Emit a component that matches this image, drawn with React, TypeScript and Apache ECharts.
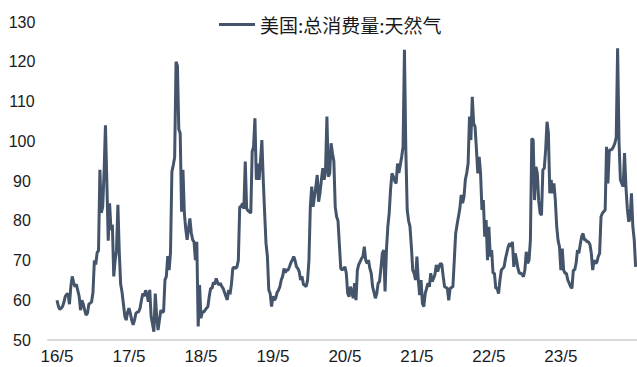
import React, { useEffect, useRef } from "react";
import * as echarts from "echarts";

const seriesName = "美国:总消费量:天然气";
const tickLabels = ["16/5", "17/5", "18/5", "19/5", "20/5", "21/5", "22/5", "23/5"];
const tickWeeks = [0, 52, 104, 156, 208, 260, 312, 364];

// weekly values, 2016/5 onwards
const wk2016 = [60, 58.5, 57.7, 58, 58.4, 59.5, 61, 61.5, 61.6, 59, 63.4, 66, 64.5, 63.4, 64, 62.5, 61, 57.5, 60, 59, 57.5, 56.3, 56.7, 59, 59.3, 59.6, 62, 70, 69, 72, 72.5, 92.8, 82, 83.5, 92, 104, 90, 75, 84.4, 77.7, 79, 66, 70, 72.6, 84, 72, 64, 62, 59, 56, 55, 57, 58, 56.7];
const wk2017 = [55, 53.8, 55, 56.7, 57, 57.1, 58, 60, 61.7, 61, 62.5, 61.5, 59.6, 62.6, 55.9, 54, 52.1, 61.7, 56, 52.5, 55, 57.5, 57, 57.1, 65.1, 66, 71.1, 67.6, 72, 92.3, 94, 96, 120, 119, 103, 102, 82.3, 92.8, 81.9, 78, 75.2, 78, 80.6, 77, 75.2, 74.7, 70.1, 74.7, 53.4, 63.8, 55.5, 57.1, 57, 57.5];
const wk2018 = [58, 58.4, 61, 63, 63, 64.5, 64, 65.5, 64.5, 63.8, 64.3, 63.5, 63, 62, 61, 60.1, 62.6, 61.5, 64, 68, 68.4, 68, 68.4, 70, 83.5, 83.5, 84.4, 83, 94.9, 83.1, 82.5, 82.3, 81.9, 97.4, 98.6, 105.8, 90.3, 94.4, 90.3, 95, 100.3, 90.3, 82, 74.3, 71, 62.6, 61.7, 58.4, 61, 60, 60.5, 62];
const wk2019 = [62.5, 63.4, 65.1, 66, 68, 67, 67.6, 67.6, 68.5, 69.5, 70.1, 71, 70, 68.4, 68, 67.2, 65.1, 66, 64, 63.8, 63.4, 65, 70, 83.5, 88.6, 83.5, 86, 88.6, 91.5, 84.8, 87, 90.3, 93.2, 90.3, 92.8, 106.2, 91.1, 91.9, 99.5, 97, 95, 83.5, 81, 80, 74, 68, 67.6, 68, 68.4, 66.8, 61.7, 60.9];
const wk2020 = [63.4, 62, 60.5, 64.3, 60, 67.6, 69, 69.7, 70.5, 71, 73.5, 70.1, 69.3, 70.1, 68, 66.8, 63.4, 62, 60.5, 61.7, 64.3, 64.7, 68, 71.8, 72.6, 62.2, 72.6, 78.5, 82, 88, 91.9, 91.1, 90, 89.4, 94.4, 92, 94, 96.1, 98.6, 123, 97.8, 82.7, 80, 78.5, 73.5, 67.6, 66.8, 65.1, 71, 65.1, 61.3, 65.1];
const wk2021 = [59.2, 58.4, 61.7, 63, 64.3, 63.4, 66.8, 64.7, 65.5, 66.4, 68.9, 67.2, 68.4, 69.3, 69, 66, 63.4, 63.2, 63, 60, 63, 63.2, 63.4, 70, 76.8, 79, 81, 83, 86.5, 84.4, 86, 90.3, 92, 94.4, 106.2, 100.3, 111.2, 104.5, 103.7, 98, 91.9, 96.1, 91.9, 82.7, 85.2, 76, 80.2, 70.1, 78.5, 71, 72.6, 66.8];
const wk2022 = [66.8, 63, 63, 61.7, 65.1, 67.6, 68, 68.4, 70.5, 72, 73.5, 74.3, 73.5, 74.7, 68.4, 71.8, 70.1, 68, 66.8, 66.8, 66.5, 65.9, 67.6, 72.2, 69.3, 70.1, 75.2, 100.7, 100.3, 85.2, 93.6, 91.9, 85, 81.9, 81.4, 92.8, 93.2, 97.8, 104.9, 102, 86.9, 90.3, 86.9, 89.4, 85.2, 78.5, 75, 73.5, 67.6, 73, 67.6, 66.8];
const wk2023 = [66.8, 65.1, 64.3, 63.5, 63, 67.6, 67.6, 69.3, 72.6, 71.8, 74, 76, 76.8, 75.2, 75.2, 74.7, 74.7, 74, 71.8, 67.6, 70.1, 69.3, 69.5, 71, 71.8, 81, 81.9, 82.3, 82.7, 98.6, 89.4, 97.8, 97.8, 98, 98.6, 99.5, 101, 123.4, 100, 90.3, 89.4, 88.6, 97, 88.6, 83.1, 79.8, 80.6, 86.9, 78.5, 75.2, 68.4];

const values = [...wk2016, ...wk2017, ...wk2018, ...wk2019, ...wk2020, ...wk2021, ...wk2022, ...wk2023];

export default function App() {
  const ref = useRef<HTMLDivElement>(null);
  useEffect(() => {
    if (!ref.current) return;
    const chart = echarts.init(ref.current, undefined, { renderer: "svg" });
    const font = "'Liberation Sans', Arial, sans-serif";
    chart.setOption({
      animation: false,
      backgroundColor: "#ffffff",
      legend: {
        top: 10,
        left: 214,
        icon: "rect",
        itemWidth: 36,
        itemHeight: 3,
        itemGap: 5,
        textStyle: { fontSize: 19, color: "#1a1a1a", fontFamily: "'Noto Sans CJK SC', sans-serif" },
        data: [seriesName],
      },
      grid: { left: 48, right: 0, top: 22, bottom: 27, containLabel: false },
      xAxis: {
        type: "value",
        min: -6.5,
        max: 419,
        splitLine: { show: false },
        axisLine: { show: true, lineStyle: { color: "#d9d9d9", width: 2 } },
        axisTick: { show: false },
        axisLabel: {
          customValues: tickWeeks,
          formatter: (v: number) => tickLabels[Math.round(v / 52)] ?? "",
          fontSize: 17,
          color: "#1a1a1a",
          fontFamily: font,
          margin: 8,
        },
      },
      yAxis: {
        type: "value",
        min: 50,
        max: 130,
        interval: 10,
        splitLine: { show: false },
        axisLine: { show: false },
        axisTick: { show: false },
        axisLabel: {
          fontSize: 16,
          color: "#1a1a1a",
          fontFamily: font,
          align: "center",
          margin: 26,
        },
      },
      series: [
        {
          name: seriesName,
          type: "line",
          symbol: "none",
          data: values.map((v, i) => [i, v]),
          lineStyle: { color: "#44546a", width: 3 },
          itemStyle: { color: "#44546a" },
        },
      ],
    });
    return () => chart.dispose();
  }, []);
  return (
    <div
      ref={ref}
      style={{ position: "fixed", left: 0, top: 0, width: 637, height: 367 }}
    />
  );
}
